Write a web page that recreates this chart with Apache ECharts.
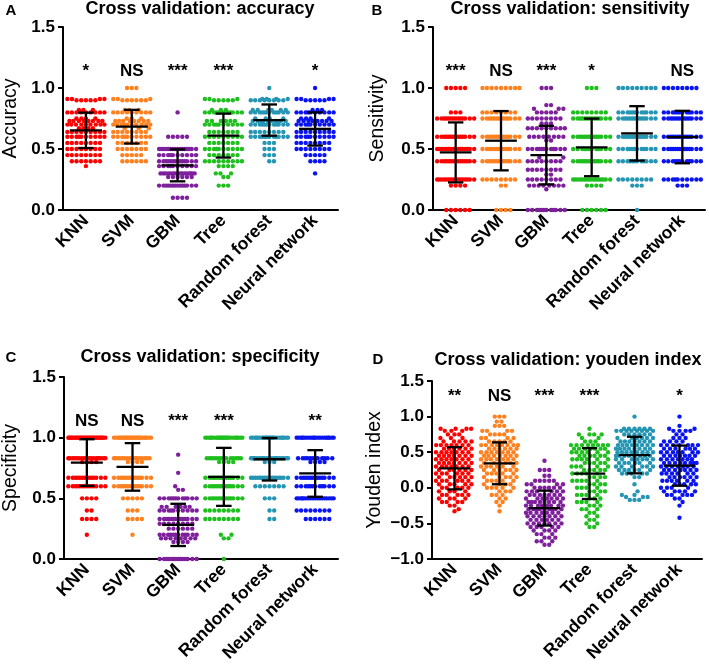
<!DOCTYPE html>
<html>
<head>
<meta charset="utf-8">
<script src="https://cdn.jsdelivr.net/npm/echarts@6/dist/echarts.min.js"></script>
<style>html,body{margin:0;padding:0;background:#fff}#c{width:709px;height:669px}</style>
</head>
<body>
<div id="c"></div>
<script>
// ---------- DATA ----------
const models = ['KNN', 'SVM', 'GBM', 'Tree', 'Random forest', 'Neural network'];
const colors = ['#FF0000', '#FF801F', '#7E1F9C', '#1FBF1F', '#2496B3', '#0A14F0'];

// dots: [value, count] per model
const accuracyKNN = [[0.91,4],[0.9,5],[0.82,3],[0.8,9],[0.75,4],[0.73,8],[0.7,9],[0.67,4],[0.64,9],[0.6,10],[0.55,8],[0.5,8],[0.45,8],[0.4,7],[0.36,1]];
const accuracySVM = [[1.0,3],[0.91,3],[0.9,6],[0.82,3],[0.8,9],[0.75,3],[0.73,8],[0.7,10],[0.67,3],[0.64,8],[0.6,10],[0.55,7],[0.5,7],[0.45,5],[0.4,6]];
const accuracyGBM = [[0.8,1],[0.6,5],[0.5,16],[0.45,10],[0.4,14],[0.36,10],[0.3,16],[0.27,6],[0.2,14],[0.1,4]];
const accuracyTree = [[0.91,3],[0.9,5],[0.82,3],[0.8,11],[0.73,6],[0.7,10],[0.64,7],[0.6,9],[0.55,7],[0.5,10],[0.45,7],[0.4,9],[0.36,4],[0.3,3],[0.27,2],[0.2,3]];
const accuracyRF = [[1.0,1],[0.91,4],[0.9,8],[0.82,6],[0.8,12],[0.75,4],[0.73,10],[0.7,12],[0.64,8],[0.6,12],[0.55,3],[0.5,3],[0.45,3],[0.4,2]];
const accuracyNN = [[1.0,1],[0.91,4],[0.9,5],[0.82,3],[0.8,10],[0.75,4],[0.73,9],[0.7,10],[0.64,9],[0.6,10],[0.55,8],[0.5,8],[0.45,5],[0.4,4],[0.3,1]];
const accuracyMean = [0.653, 0.683, 0.366, 0.61, 0.737, 0.664];
const accuracySD = [0.145, 0.138, 0.131, 0.18, 0.128, 0.136];
const accuracySig = ['*', 'NS', '***', '***', '', '*'];

const sensitivityKNN = [[1,5],[0.8,3],[0.75,14],[0.6,14],[0.5,16],[0.4,15],[0.25,16],[0.2,4],[0,6]];
const sensitivitySVM = [[1,9],[0.8,8],[0.75,14],[0.6,14],[0.5,14],[0.4,14],[0.25,8],[0.2,2],[0,4]];
const sensitivityGBM = [[1,3],[0.86,2],[0.83,3],[0.8,5],[0.75,8],[0.71,3],[0.67,9],[0.6,8],[0.57,2],[0.5,12],[0.43,2],[0.4,8],[0.33,8],[0.29,2],[0.25,8],[0.2,8],[0.17,1],[0,12]];
const sensitivityTree = [[1,3],[0.8,8],[0.75,14],[0.6,14],[0.5,12],[0.4,14],[0.25,16],[0.2,4],[0,6]];
const sensitivityRF = [[1,9],[0.8,12],[0.75,14],[0.6,14],[0.5,12],[0.4,12],[0.25,8],[0.2,3],[0,1]];
const sensitivityNN = [[1,8],[0.8,12],[0.75,14],[0.6,14],[0.5,14],[0.4,12],[0.25,10],[0.2,3]];
const sensitivityMean = [0.472, 0.568, 0.45, 0.513, 0.628, 0.598];
const sensitivitySD = [0.246, 0.243, 0.24, 0.236, 0.223, 0.215];
const sensitivitySig = ['***', 'NS', '***', '*', '', 'NS'];

const specificityKNN = [[1,32],[0.83,18],[0.8,4],[0.67,14],[0.6,14],[0.5,4],[0.4,2],[0.33,4],[0.2,1]];
const specificitySVM = [[1,28],[0.83,16],[0.8,4],[0.67,14],[0.6,14],[0.5,5],[0.4,3],[0.33,4],[0.2,1]];
const specificityGBM = [[0.86,1],[0.71,1],[0.6,1],[0.57,2],[0.5,12],[0.43,6],[0.4,10],[0.33,14],[0.29,8],[0.25,6],[0.2,12],[0.17,8],[0.14,4],[0,14]];
const specificityTree = [[1,24],[0.83,14],[0.8,4],[0.67,14],[0.6,14],[0.5,14],[0.4,8],[0.33,8],[0.2,2],[0.17,2],[0,1]];
const specificityRF = [[1,24],[0.83,20],[0.8,3],[0.67,16],[0.6,7],[0.5,3],[0.4,2],[0.33,2]];
const specificityNN = [[1,20],[0.83,12],[0.8,4],[0.67,14],[0.6,12],[0.5,18],[0.4,8],[0.33,6]];
const specificityMean = [0.795, 0.759, 0.281, 0.677, 0.822, 0.705];
const specificitySD = [0.192, 0.196, 0.174, 0.239, 0.175, 0.192];
const specificitySig = ['NS', 'NS', '***', '***', '', '**'];

const youdenKNN = [[0.83,4],[0.8,3],[0.75,3],[0.7,3],[0.65,5],[0.6,7],[0.55,6],[0.5,7],[0.45,7],[0.4,7],[0.35,7],[0.3,7],[0.25,6],[0.2,6],[0.15,6],[0.1,6],[0.05,5],[0,5],[-0.05,4],[-0.1,5],[-0.15,4],[-0.2,4],[-0.25,2],[-0.3,1],[-0.33,1]];
const youdenSVM = [[1,3],[0.93,2],[0.87,3],[0.8,4],[0.75,4],[0.7,4],[0.65,5],[0.6,8],[0.55,6],[0.5,7],[0.45,7],[0.4,7],[0.35,6],[0.3,6],[0.25,6],[0.2,5],[0.15,5],[0.1,5],[0.05,4],[0,5],[-0.05,3],[-0.1,3],[-0.15,2],[-0.2,2],[-0.25,1],[-0.33,1]];
const youdenGBM = [[0.38,1],[0.25,3],[0.17,2],[0.1,5],[0.05,4],[0,6],[-0.05,6],[-0.1,7],[-0.15,7],[-0.2,8],[-0.25,8],[-0.3,9],[-0.35,7],[-0.4,7],[-0.45,6],[-0.5,7],[-0.55,5],[-0.6,4],[-0.65,3],[-0.7,3],[-0.75,3],[-0.8,2]];
const youdenTree = [[0.83,1],[0.75,4],[0.7,2],[0.65,3],[0.6,8],[0.55,7],[0.5,6],[0.45,6],[0.4,6],[0.35,5],[0.3,5],[0.25,5],[0.2,5],[0.15,4],[0.1,5],[0.05,4],[0,4],[-0.05,4],[-0.1,4],[-0.15,3],[-0.2,4],[-0.25,3],[-0.3,3],[-0.35,2],[-0.4,2],[-0.45,2],[-0.5,2],[-0.55,2]];
const youdenRF = [[1,1],[0.83,6],[0.8,8],[0.75,6],[0.7,6],[0.65,7],[0.6,8],[0.55,8],[0.5,8],[0.45,8],[0.4,7],[0.35,6],[0.3,6],[0.25,6],[0.2,5],[0.15,2],[0.05,1],[-0.05,1],[-0.1,2],[-0.13,3],[-0.17,3]];
const youdenNN = [[1,1],[0.87,1],[0.83,2],[0.8,4],[0.75,2],[0.7,3],[0.65,4],[0.6,7],[0.55,6],[0.5,7],[0.45,7],[0.4,7],[0.35,8],[0.3,7],[0.25,7],[0.2,6],[0.15,6],[0.1,6],[0.05,5],[0,4],[-0.05,5],[-0.1,5],[-0.15,2],[-0.2,1],[-0.25,1],[-0.42,1]];
const youdenMean = [0.274, 0.344, -0.285, 0.2, 0.46, 0.311];
const youdenSD = [0.296, 0.294, 0.245, 0.357, 0.257, 0.282];
const youdenSig = ['**', 'NS', '***', '***', '', '*'];

// ---------- LAYOUT ----------
const FONT = '"Liberation Sans", Arial, Helvetica, sans-serif';
const panels = [
  {letter:'A', title:'Cross validation: accuracy', yName:'Accuracy', min:0, max:1.5, sigY:1.14,
   dots:[accuracyKNN,accuracySVM,accuracyGBM,accuracyTree,accuracyRF,accuracyNN], mean:accuracyMean, sd:accuracySD, sig:accuracySig,
   grid:{left:62, top:27, width:276, height:183}, nameGap:42, letterPos:[11,11], titlePos:[200,9]},
  {letter:'B', title:'Cross validation: sensitivity', yName:'Sensitivity', min:0, max:1.5, sigY:1.14,
   dots:[sensitivityKNN,sensitivitySVM,sensitivityGBM,sensitivityTree,sensitivityRF,sensitivityNN], mean:sensitivityMean, sd:sensitivitySD, sig:sensitivitySig,
   grid:{left:433, top:27, width:272, height:183}, nameGap:45, letterPos:[377,11], titlePos:[570,9]},
  {letter:'C', title:'Cross validation: specificity', yName:'Specificity', min:0, max:1.5, sigY:1.136,
   dots:[specificityKNN,specificitySVM,specificityGBM,specificityTree,specificityRF,specificityNN], mean:specificityMean, sd:specificitySD, sig:specificitySig,
   grid:{left:62, top:377, width:276, height:182}, nameGap:43, letterPos:[11,358], titlePos:[200,357]},
  {letter:'D', title:'Cross validation: youden index', yName:'Youden index', min:-1, max:1.5, sigY:1.29,
   dots:[youdenKNN,youdenSVM,youdenGBM,youdenTree,youdenRF,youdenNN], mean:youdenMean, sd:youdenSD, sig:youdenSig,
   grid:{left:432, top:381, width:270, height:178}, nameGap:47, letterPos:[378,360], titlePos:[568,360]}
];

// beeswarm layout (horizontal offsets in px, derived from values)
function swarm(values, ppu, d, wmax) {
  const pts = values.map((v, k) => ({v, y: v * ppu, k})).sort((a, b) => a.y - b.y);
  const placed = [];
  for (const p of pts) {
    const nb = placed.filter(q => Math.abs(q.y - p.y) < d);
    const cands = [0];
    nb.forEach(q => { const dx = Math.sqrt(d * d - (q.y - p.y) ** 2); cands.push(q.x + dx, q.x - dx); });
    cands.sort((a, b) => Math.abs(a) - Math.abs(b));
    let found = null;
    for (const x of cands) {
      if (Math.abs(x) > wmax + 1e-6) continue;
      if (nb.every(q => (q.x - x) ** 2 + (q.y - p.y) ** 2 >= d * d - 1e-6)) { found = x; break; }
    }
    if (found === null) {
      let bx = 0, bs = -1;
      for (let x = -wmax; x <= wmax + 1e-9; x += 0.5) {
        const s = Math.min(...nb.map(q => Math.hypot(q.x - x, q.y - p.y)));
        if (s > bs + 1e-6 || (Math.abs(s - bs) < 1e-6 && Math.abs(x) < Math.abs(bx))) { bs = s; bx = x; }
      }
      found = bx;
    }
    p.x = found; placed.push(p);
  }
  return placed;
}

const grids = [], xAxes = [], yAxes = [], series = [], graphics = [];
panels.forEach((P, pi) => {
  grids.push(P.grid);
  xAxes.push({
    type: 'category', gridIndex: pi, data: models,
    axisLine: {onZero: false, lineStyle: {color: '#000', width: 2}},
    axisTick: {alignWithLabel: true, length: 5, lineStyle: {color: '#000', width: 2}},
    axisLabel: {rotate: 45, interval: 0, margin: 8, color: '#000', fontSize: 17.5, fontWeight: 'bold', fontFamily: FONT},
    splitLine: {show: false}
  });
  yAxes.push({
    type: 'value', gridIndex: pi, min: P.min, max: P.max, interval: 0.5,
    name: P.yName, nameLocation: 'middle', nameGap: P.nameGap,
    nameTextStyle: {color: '#000', fontSize: 19.5, fontFamily: FONT},
    axisLine: {show: true, lineStyle: {color: '#000', width: 2}},
    axisTick: {show: true, length: 5, lineStyle: {color: '#000', width: 2}},
    axisLabel: {margin: 8, color: '#000', fontSize: 17, fontWeight: 'bold', fontFamily: FONT,
      formatter: v => (v < 0 ? '\u2212' : '') + Math.abs(v).toFixed(1)},
    splitLine: {show: false}
  });
  const ppu = P.grid.height / (P.max - P.min);
  P.dots.forEach((pairs, gi) => {
    const vals = [];
    pairs.forEach(([v, c]) => { for (let k = 0; k < c; k++) vals.push(v); });
    const placed = swarm(vals, ppu, 4.7, 18.5);
    series.push({
      type: 'scatter', xAxisIndex: pi, yAxisIndex: pi, symbol: 'circle', symbolSize: 4.4,
      itemStyle: {color: colors[gi], opacity: 1}, silent: true, z: 2,
      data: placed.map(p => ({value: [gi, p.v], symbolOffset: [p.x, 0]}))
    });
  });
  // mean +/- SD
  series.push({
    type: 'custom', xAxisIndex: pi, yAxisIndex: pi, z: 5, silent: true,
    data: P.mean.map((m, i) => [i, m, P.sd[i]]),
    renderItem: (params, api) => {
      const i = api.value(0), m = api.value(1), s = api.value(2);
      const c = api.coord([i, m]), t = api.coord([i, m + s]), b = api.coord([i, m - s]);
      const bw = api.size([1, 0])[0];
      const mh = bw * 0.35, ch = bw * 0.17;
      const st = {stroke: '#000', lineWidth: 2.3};
      return {type: 'group', children: [
        {type: 'line', shape: {x1: c[0] - mh, y1: c[1], x2: c[0] + mh, y2: c[1]}, style: st},
        {type: 'line', shape: {x1: c[0], y1: t[1], x2: c[0], y2: b[1]}, style: st},
        {type: 'line', shape: {x1: c[0] - ch, y1: t[1], x2: c[0] + ch, y2: t[1]}, style: st},
        {type: 'line', shape: {x1: c[0] - ch, y1: b[1], x2: c[0] + ch, y2: b[1]}, style: st}
      ]};
    }
  });
  // significance labels
  series.push({
    type: 'custom', xAxisIndex: pi, yAxisIndex: pi, z: 6, silent: true,
    data: P.sig.map((s, i) => [i, P.sigY, s]),
    renderItem: (params, api) => {
      const idx = params.dataIndex;
      const c = api.coord([api.value(0), api.value(1)]);
      return {type: 'text', style: {text: P.sig[idx], x: c[0], y: c[1], textAlign: 'center', textVerticalAlign: 'middle',
        fill: '#000', font: 'bold 17px ' + FONT}};
    }
  });
  graphics.push({type: 'text', x: P.titlePos[0], y: P.titlePos[1], style: {text: P.title, textAlign: 'center', textVerticalAlign: 'middle', fill: '#000', font: 'bold 18px ' + FONT}});
  graphics.push({type: 'text', x: P.letterPos[0], y: P.letterPos[1], style: {text: P.letter, textAlign: 'center', textVerticalAlign: 'middle', fill: '#000', font: 'bold 15px ' + FONT}});
});

const chart = echarts.init(document.getElementById('c'), null, {renderer: 'canvas'});
chart.setOption({
  animation: false,
  backgroundColor: '#fff',
  grid: grids, xAxis: xAxes, yAxis: yAxes, series: series, graphic: graphics
});
</script>
</body>
</html>
